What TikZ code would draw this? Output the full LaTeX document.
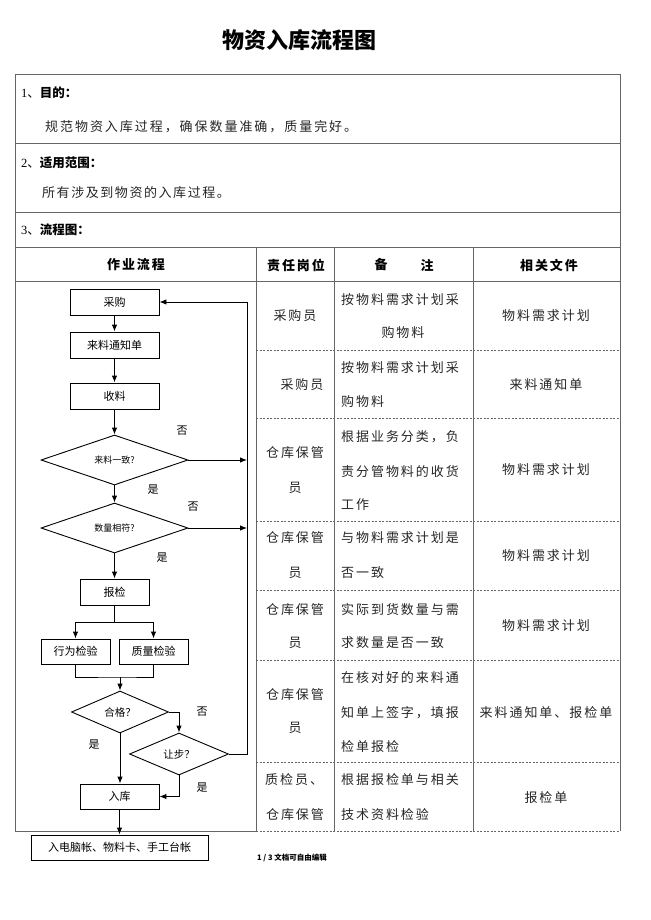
\documentclass[tikz,border=0pt]{standalone}
\usepackage{fontspec}
\setmainfont{Liberation Serif}
\newfontfamily\cjk{Noto Sans CJK SC}
\newfontfamily\cjksp[LetterSpace=15]{Noto Sans CJK SC}
\newfontfamily\cjkhd[LetterSpace=15]{Noto Sans CJK SC}
\usetikzlibrary{arrows.meta,shapes.geometric}
\begin{document}
\begin{tikzpicture}[x=1pt,y=-1pt,
  tl/.style={draw=black!60, line width=0.8pt},
  dl/.style={draw=black!60, line width=0.8pt, dash pattern=on 2pt off 1.5pt},
  fbox/.style={draw=black, line width=0.9pt, minimum width=#1, minimum height=26pt, inner sep=0pt, font=\cjk\fontsize{11}{11}\selectfont},
  dia/.style n args={3}{diamond, draw=black, line width=0.9pt, minimum width=#1, minimum height=#2, inner sep=0pt, font=\cjk\fontsize{#3}{#3}\selectfont},
  arr/.style={-{Latex[length=7pt,width=5.5pt]}, line width=0.9pt},
  ln/.style={line width=0.9pt},
  lab/.style={font=\cjk\fontsize{11}{11}\selectfont, inner sep=0pt},
  cell/.style={font=\cjksp\fontsize{13}{13}\selectfont, inner sep=0pt, text=black!85},
  cellw/.style={cell, anchor=west},
  head/.style={font=\cjkhd\bfseries\fontsize{13}{13}\selectfont, inner sep=0pt},
  sec/.style={anchor=west, inner sep=0pt, font=\fontsize{12.5}{12.5}\selectfont}
]
\fill[white] (0,0) rectangle (650,920);
\useasboundingbox (0,0) rectangle (650,920);

% title
\node[font=\cjk\bfseries\fontsize{22}{22}\selectfont, inner sep=0pt] (title) at (299,40) {物资入库流程图};

% table frame
\draw[tl] (15,74) -- (620,74) -- (620,831);
\draw[tl] (15,74) -- (15,831) -- (256,831);
\draw[dl] (256,831) -- (620,831);
\draw[tl] (15,143) -- (620,143);
\draw[tl] (15,212) -- (620,212);
\draw[tl] (15,247) -- (620,247);
\draw[tl] (15,281) -- (620,281);
\draw[tl] (256,247) -- (256,831);
\draw[tl] (334,247) -- (334,831);
\draw[tl] (473,247) -- (473,831);
\foreach \yy in {350,418,521,590,660,762} \draw[dl] (256,\yy) -- (620,\yy);

% sections
\node[sec] (s1) at (21,93) {1\cjk、\bfseries 目的：};
\node[cellw, font=\cjk\addfontfeature{LetterSpace=15}\fontsize{13}{13}\selectfont] (s1t) at (45,127) {规范物资入库过程，确保数量准确，质量完好。};
\node[sec] (s2) at (21,163) {2\cjk、\bfseries 适用范围：};
\node[cellw, font=\cjk\addfontfeature{LetterSpace=12}\fontsize{13}{13}\selectfont] (s2t) at (42,193) {所有涉及到物资的入库过程。};
\node[sec] (s3) at (21,230) {3\cjk、\bfseries 流程图：};

% header
\node[head] (h1) at (136,265) {作业流程};
\node[head] (h2) at (296,265) {责任岗位};
\node[head] (h3a) at (381,265) {备};
\node[head] (h3b) at (427,265) {注};
\node[head] (h4) at (549,265) {相关文件};

% rows
\node[cell] (r1a) at (295,316) {采购员};
\node[cellw] (r1b) at (341,300) {按物料需求计划采};
\node[cell] (r1c) at (403,333) {购物料};
\node[cell] (r1d) at (546,316) {物料需求计划};

\node[cell] (r2a) at (302,385) {采购员};
\node[cellw] (r2b) at (341,368) {按物料需求计划采};
\node[cellw] (r2c) at (341,402) {购物料};
\node[cell] (r2d) at (546,385) {来料通知单};

\node[cell] (r3a) at (295,453) {仓库保管};
\node[cell] (r3b) at (295,488) {员};
\node[cellw] (r3c) at (341,437) {根据业务分类，负};
\node[cellw] (r3d) at (341,472) {责分管物料的收货};
\node[cellw] (r3e) at (341,505) {工作};
\node[cell] (r3f) at (546,470) {物料需求计划};

\node[cell] (r4a) at (295,538) {仓库保管};
\node[cell] (r4b) at (295,573) {员};
\node[cellw] (r4c) at (341,538) {与物料需求计划是};
\node[cellw] (r4d) at (341,573) {否一致};
\node[cell] (r4e) at (546,556) {物料需求计划};

\node[cell] (r5a) at (295,610) {仓库保管};
\node[cell] (r5b) at (295,643) {员};
\node[cellw] (r5c) at (341,610) {实际到货数量与需};
\node[cellw] (r5d) at (341,643) {求数量是否一致};
\node[cell] (r5e) at (546,626) {物料需求计划};

\node[cell] (r6a) at (295,695) {仓库保管};
\node[cell] (r6b) at (295,728) {员};
\node[cellw] (r6c) at (341,678) {在核对好的来料通};
\node[cellw] (r6d) at (341,713) {知单上签字，填报};
\node[cellw] (r6e) at (341,747) {检单报检};
\node[cell] (r6f) at (546,713) {来料通知单、报检单};

\node[cellw] (r7a) at (265,780) {质检员、};
\node[cell] (r7b) at (295,815) {仓库保管};
\node[cellw] (r7c) at (341,780) {根据报检单与相关};
\node[cellw] (r7d) at (341,815) {技术资料检验};
\node[cell] (r7e) at (546,798) {报检单};

% footer
\node[font=\cjk\bfseries\fontsize{7.5}{7.5}\selectfont, anchor=west, inner sep=0pt] (foot) at (257,858) {1 / 3 文档可自由编辑};

% flowchart nodes
\node[fbox=89] (cg) at (114.5,302) {采购};
\node[fbox=89] (tz) at (114.5,345) {来料通知单};
\node[fbox=89] (sl) at (114.5,396) {收料};
\node[dia={147}{50}{9}] (d1) at (114.5,460) {来料一致?};
\node[dia={147}{50}{9}] (d2) at (114.5,528) {数量相符?};
\node[fbox=69] (bj) at (114.5,592) {报检};
\node[fbox=69, minimum height=25pt] (xw) at (75.5,651.5) {行为检验};
\node[fbox=69, minimum height=25pt] (zl) at (153.5,651.5) {质量检验};
\node[dia={97}{42}{10.5}] (hg) at (120,712) {合格？};
\node[dia={99}{42}{10.5}] (rb) at (179,754) {让步？};
\node[fbox=79, minimum height=25pt] (rk) at (119.5,796.5) {入库};
\node[fbox=177, minimum height=25pt] (fin) at (119.5,847.5) {入电脑帐、物料卡、手工台帐};

\coordinate (f1) at (247,460);
\coordinate (f2) at (247,528);
\coordinate (fb) at (247,754);
\coordinate (sp) at (114.5,622);
\coordinate (mg) at (120,677);

% connectors
\draw[arr] (cg) -- (tz);
\draw[arr] (tz) -- (sl);
\draw[arr] (sl) -- (d1);
\draw[arr] (d1.east) -- (f1);
\draw[arr] (d1) -- (d2);
\draw[arr] (d2.east) -- (f2);
\draw[arr] (d2) -- (bj);
\draw[ln] (bj.south) -- (sp);
\draw[arr] (sp) -| (xw.north);
\draw[arr] (sp) -| (zl.north);
\draw[ln] (xw.south) |- (mg) -| (zl.south);
\draw[arr] (mg) -- (hg.north);
\draw[arr] (hg.east) -| (rb.north);
\draw[arr] (hg.south) -- (rk.north -| hg.south);
\draw[arr] (rb.south) |- (rk.east);
\draw[arr] (rb.east) -- (fb) |- (cg.east);
\draw[arr] (rk) -- (fin);

% labels
\node[lab] (n1) at (182,431) {否};
\node[lab] (y1) at (153,490) {是};
\node[lab] (n2) at (193,507) {否};
\node[lab] (y2) at (162,558) {是};
\node[lab] (n3) at (202,712) {否};
\node[lab] (y3) at (94,745) {是};
\node[lab] (y4) at (202,788) {是};
\end{tikzpicture}
\end{document}
